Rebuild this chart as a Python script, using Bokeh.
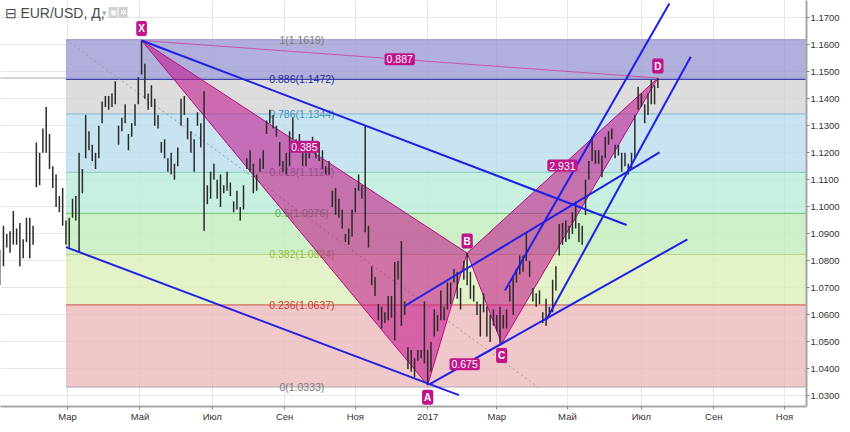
import numpy as np
from bokeh.plotting import figure
from bokeh.models import Range1d, FixedTicker, Label, NumeralTickFormatter, Span
from bokeh.embed import file_html
from bokeh.resources import INLINE
from bokeh.core.properties import value

ORIGIN = "2016-01-01"
FONT = "Liberation Sans"

# ---------------- data ----------------
symbol_title = "EUR/USD, Д,"
last_price = 1.1477

# daily bars, sampled every 2nd trading day starting 2016-01-04
bar_start = "2016-01-04"
bar_step = 2
highs = [
    1.0840, 1.0930, 1.0900, 1.0910, 1.0985, 1.0920, 1.0940, 1.0880, 1.0960, 1.0960,
    1.0930, 1.1238, 1.1200, 1.1290, 1.1370, 1.1270, 1.1150, 1.1120, 1.1040, 1.1070,
    1.0950, 1.0960, 1.1030, 1.1040, 1.1200, 1.1140, 1.1340, 1.1280, 1.1230, 1.1200,
    1.1300, 1.1390, 1.1410, 1.1410, 1.1420, 1.1465, 1.1300, 1.1330, 1.1380, 1.1270,
    1.1310, 1.1380, 1.1480, 1.1616, 1.1530, 1.1420, 1.1450, 1.1400, 1.1340, 1.1240,
    1.1250, 1.1180, 1.1200, 1.1160, 1.1220, 1.1400, 1.1410, 1.1330, 1.1280, 1.1250,
    1.1350, 1.1310, 1.1428, 1.1080, 1.1130, 1.1160, 1.1100, 1.1120, 1.1080, 1.1130,
    1.1090, 1.1020, 1.1060, 1.1000, 1.1080, 1.1180, 1.1210, 1.1160, 1.1120, 1.1180,
    1.1210, 1.1320, 1.1360, 1.1340, 1.1300, 1.1240, 1.1170, 1.1200, 1.1280, 1.1330,
    1.1250, 1.1270, 1.1240, 1.1220, 1.1240, 1.1260, 1.1230, 1.1240, 1.1210, 1.1150,
    1.1170, 1.1060, 1.1070, 1.1030, 1.0990, 1.0900, 1.0920, 1.0990, 1.1070, 1.1120,
    1.1080, 1.1299, 1.0930, 1.0780, 1.0740, 1.0640, 1.0630, 1.0610, 1.0670, 1.0670,
    1.0796, 1.0800, 1.0874, 1.0650, 1.0480, 1.0470, 1.0440, 1.0470, 1.0470, 1.0650,
    1.0470, 1.0500, 1.0620, 1.0600, 1.0690, 1.0630, 1.0720, 1.0720, 1.0770, 1.0760,
    1.0700, 1.0800, 1.0829, 1.0760, 1.0710, 1.0650, 1.0640, 1.0680, 1.0630, 1.0600,
    1.0620, 1.0600, 1.0630, 1.0600, 1.0620, 1.0710, 1.0740, 1.0770, 1.0820, 1.0820,
    1.0906, 1.0800, 1.0700, 1.0680, 1.0690, 1.0610, 1.0660, 1.0630, 1.0730, 1.0780,
    1.0937, 1.0940, 1.0950, 1.0930, 1.0980, 1.1020, 1.0940, 1.0930, 1.1100, 1.1170,
    1.1260, 1.1210, 1.1210, 1.1190, 1.1260, 1.1280, 1.1290, 1.1230, 1.1230, 1.1200,
    1.1200, 1.1160, 1.1200, 1.1340, 1.1445, 1.1420, 1.1380, 1.1420, 1.1470, 1.1450,
    1.1477,
]
lows = [
    1.0711, 1.0780, 1.0850, 1.0830, 1.0860, 1.0860, 1.0780, 1.0810, 1.0870, 1.0810,
    1.0860, 1.1073, 1.1080, 1.1200, 1.1200, 1.1140, 1.1070, 1.1000, 1.0980, 1.0930,
    1.0860, 1.0850, 1.0960, 1.0950, 1.0830, 1.1050, 1.1180, 1.1210, 1.1170, 1.1140,
    1.1180, 1.1310, 1.1370, 1.1360, 1.1370, 1.1380, 1.1230, 1.1280, 1.1310, 1.1210,
    1.1260, 1.1300, 1.1380, 1.1490, 1.1400, 1.1360, 1.1370, 1.1300, 1.1290, 1.1200,
    1.1180, 1.1130, 1.1120, 1.1100, 1.1150, 1.1300, 1.1340, 1.1250, 1.1200, 1.1130,
    1.1300, 1.1220, 1.0912, 1.1010, 1.1030, 1.1100, 1.1030, 1.1000, 1.1050, 1.1060,
    1.1040, 1.0980, 1.0990, 1.0950, 1.0990, 1.1140, 1.1130, 1.1050, 1.1060, 1.1130,
    1.1140, 1.1270, 1.1310, 1.1290, 1.1260, 1.1150, 1.1130, 1.1120, 1.1150, 1.1250,
    1.1210, 1.1220, 1.1150, 1.1150, 1.1180, 1.1210, 1.1180, 1.1170, 1.1140, 1.1120,
    1.1120, 1.1000, 1.0970, 1.0960, 1.0920, 1.0870, 1.0860, 1.0890, 1.0980, 1.1060,
    1.1030, 1.0906, 1.0850, 1.0710, 1.0670, 1.0580, 1.0550, 1.0570, 1.0580, 1.0590,
    1.0505, 1.0730, 1.0560, 1.0600, 1.0400, 1.0390, 1.0370, 1.0430, 1.0440, 1.0420,
    1.0340, 1.0390, 1.0520, 1.0540, 1.0580, 1.0580, 1.0620, 1.0640, 1.0720, 1.0660,
    1.0620, 1.0730, 1.0710, 1.0660, 1.0650, 1.0600, 1.0520, 1.0610, 1.0520, 1.0500,
    1.0560, 1.0540, 1.0494, 1.0550, 1.0550, 1.0650, 1.0600, 1.0720, 1.0750, 1.0760,
    1.0800, 1.0740, 1.0650, 1.0630, 1.0640, 1.0570, 1.0560, 1.0600, 1.0610, 1.0690,
    1.0820, 1.0860, 1.0870, 1.0880, 1.0900, 1.0920, 1.0870, 1.0860, 1.0970, 1.1100,
    1.1170, 1.1160, 1.1160, 1.1110, 1.1180, 1.1230, 1.1250, 1.1180, 1.1190, 1.1130,
    1.1150, 1.1120, 1.1140, 1.1180, 1.1360, 1.1370, 1.1310, 1.1340, 1.1380, 1.1380,
    1.1440,
]

month_dates = ["2016-03-01", "2016-05-02", "2016-07-01", "2016-09-01", "2016-11-01",
               "2017-01-02", "2017-03-01", "2017-05-01", "2017-07-03", "2017-09-01", "2017-11-01"]
month_labels = ["Мар", "Май", "Июл", "Сен", "Ноя", "2017", "Мар", "Май", "Июл", "Сен", "Ноя"]
price_ticks = [1.03, 1.04, 1.05, 1.06, 1.07, 1.08, 1.09, 1.10, 1.11, 1.12,
               1.13, 1.14, 1.15, 1.16, 1.17]

# Fibonacci retracement
fib_start = "2016-02-29"
fib_end = "2017-04-05"
fib_ratios = ["0", "0.236", "0.382", "0.5", "0.618", "0.786", "0.886", "1"]
fib_prices = [1.0333, 1.0637, 1.0824, 1.0976, 1.1128, 1.1344, 1.1472, 1.1619]
fib_fills = ["#ecbabd", "#ddefba", "#c1ecba", "#baecd9", "#badded", "#d4d4d4", "#9e9bd3"]
fib_line_colors = ["#a8a8a8", "#d04a4a", "#b4d27a", "#6cc46c", "#7fd0b4", "#7fb8d8", "#2e2ea6", "#9a98cc"]
fib_text_colors = ["#7a7a7a", "#c83a3a", "#94bf3e", "#4cb04c", "#6f8f88", "#3f93c2", "#2a2aa0", "#7a7a7a"]

# XABCD pattern
pat_names = ["X", "A", "B", "C", "D"]
pat_dates = ["2016-05-03", "2017-01-02", "2017-02-03", "2017-03-06", "2017-07-17"]
pat_prices = [1.1616, 1.0340, 1.0829, 1.0494, 1.1477]
pat_above = [True, False, True, False, True]
ratio_from = ["X", "X", "A", "B"]
ratio_to = ["B", "D", "C", "D"]
ratio_texts = ["0.385", "0.887", "0.675", "2.931"]

# blue trend lines
trend_start_dates = ["2016-05-03", "2016-02-29", "2016-12-13", "2017-01-03", "2017-04-12", "2017-03-08"]
trend_start_prices = [1.1616, 1.0851, 1.0633, 1.0343, 1.0580, 1.0690]
trend_end_dates = ["2017-06-20", "2017-01-27", "2017-07-18", "2017-08-10", "2017-08-14", "2017-07-26"]
trend_end_prices = [1.0933, 1.0303, 1.1202, 1.0880, 1.1556, 1.1753]


# ---------------- helpers ----------------
def bx(d):
    return np.busday_count(ORIGIN, np.asarray(d, dtype="datetime64[D]"))


bar_dates = np.busday_offset(bar_start, np.arange(len(highs)) * bar_step, roll="forward")
bar_x = bx(bar_dates).astype(float)

X0, X1 = 1.2, 491.4
Y0, Y1 = 1.0261, 1.1764

p = figure(width=842, height=424, x_range=Range1d(X0, X1), y_range=Range1d(Y0, Y1),
           y_axis_location="right", output_backend="svg", toolbar_location=None,
           min_border_left=0, min_border_top=0, min_border_right=0, min_border_bottom=0)
p.outline_line_color = None
p.background_fill_color = "white"
p.border_fill_color = "white"

# axes
month_x = [int(v) for v in bx(month_dates)]
p.xaxis.ticker = FixedTicker(ticks=month_x)
p.xaxis.major_label_overrides = {t: l for t, l in zip(month_x, month_labels)}
p.yaxis.ticker = FixedTicker(ticks=price_ticks)
p.yaxis.formatter = NumeralTickFormatter(format="0.0000")
p.xgrid.ticker = FixedTicker(ticks=month_x)
p.ygrid.ticker = FixedTicker(ticks=price_ticks)
p.grid.grid_line_color = "#e6e6e6"
for ax in (p.xaxis, p.yaxis):
    ax.axis_line_color = "#a6a6a6"
    ax.axis_line_width = 2
    ax.major_tick_line_color = "#8a8a8a"
    ax.major_tick_out = 3
    ax.major_tick_in = 0
    ax.minor_tick_line_color = None
    ax.major_label_standoff = 1
    ax.axis_label_standoff = 0
    ax.major_label_text_font = FONT
    ax.major_label_text_font_size = "9.5px"
    ax.major_label_text_color = "#333333"

# fib bands
fx0 = float(bx(fib_start))
fx1 = float(bx(fib_end))
p.quad(left=fx0, right=X1, bottom=fib_prices[:-1], top=fib_prices[1:],
       fill_color=fib_fills, fill_alpha=0.8, line_color=None)
p.segment(x0=fx0, y0=fib_prices, x1=X1, y1=fib_prices, line_color=fib_line_colors, line_width=1)
p.line([fx0, fx1], [fib_prices[-1], fib_prices[0]], line_color="#9a9a9a", line_dash="2 3", line_width=1)
fmid = (fx0 + fx1) / 2
p.text(x=[fmid] * len(fib_prices), y=fib_prices,
       text=[f"{r}({v:.4f})" for r, v in zip(fib_ratios, fib_prices)],
       text_color=fib_text_colors, text_font=value(FONT), text_font_size="10.5px",
       text_align="center", text_baseline="middle")

# current price line
p.add_layout(Span(location=last_price, dimension="width", line_color="#555555",
                  line_dash="1 1", line_width=1, level="underlay"))

# pattern triangles
px = dict(zip(pat_names, [float(v) for v in bx(pat_dates)]))
py = dict(zip(pat_names, pat_prices))
tri = [["X", "A", "B"], ["B", "C", "D"]]
p.patches(xs=[[px[n] for n in t] for t in tri], ys=[[py[n] for n in t] for t in tri],
          fill_color="#c2168c", fill_alpha=0.58, line_color="#b01080", line_width=1)

# bars
p.segment(x0=bar_x, y0=lows, x1=bar_x, y1=highs, line_color="#2a2a2a", line_width=1.5)

# thin ratio lines X-D and A-C
for a, b in (("X", "D"), ("A", "C")):
    p.line([px[a], px[b]], [py[a], py[b]], line_color="#c8409a", line_width=1, line_alpha=0.8)

# blue trend lines
p.segment(x0=bx(trend_start_dates).astype(float), y0=trend_start_prices,
          x1=bx(trend_end_dates).astype(float), y1=trend_end_prices,
          line_color="#1f1fe6", line_width=2)

BADGE = "#c0148a"
for a, b, t in zip(ratio_from, ratio_to, ratio_texts):
    p.add_layout(Label(x=(px[a] + px[b]) / 2, y=(py[a] + py[b]) / 2, text=t,
                       text_font=FONT, text_font_size="10.5px", text_color="white",
                       text_align="center", text_baseline="middle",
                       background_fill_color=BADGE, padding=2, border_radius=2))

for n, above in zip(pat_names, pat_above):
    p.add_layout(Label(x=px[n], y=py[n], text=n, y_offset=12 if above else -12,
                       text_font=FONT, text_font_size="10px", text_font_style="bold",
                       text_color="white", text_align="center", text_baseline="middle",
                       background_fill_color=BADGE, padding=2, border_radius=2))

# price tag on the axis
p.add_layout(Label(x=X1, y=last_price, x_offset=1, text=f"{last_price:.4f}",
                   text_font=FONT, text_font_size="9.5px", text_font_style="bold",
                   text_color="white", text_align="left", text_baseline="middle",
                   background_fill_color="black", padding=2))

# header
p.add_layout(Label(x=X0, y=Y1, x_offset=4, y_offset=-12, text="⊟ " + symbol_title,
                   text_font=FONT, text_font_size="14px", text_color="#4a4a4a",
                   text_align="left", text_baseline="middle"))
p.add_layout(Label(x=X0, y=Y1, x_offset=104, y_offset=-12, text="▾",
                   text_font=FONT, text_font_size="9px", text_color="#aaaaaa",
                   text_align="center", text_baseline="middle"))
for off, sym in ((108, "◉"), (118, "✲")):
    p.add_layout(Label(x=X0, y=Y1, x_offset=off, y_offset=-12, text=sym,
                       text_font=FONT, text_font_size="8px", text_color="white",
                       text_align="left", text_baseline="middle",
                       background_fill_color="#d0d0d0", padding=1))

open("out.html", "w").write(file_html(p, INLINE))
